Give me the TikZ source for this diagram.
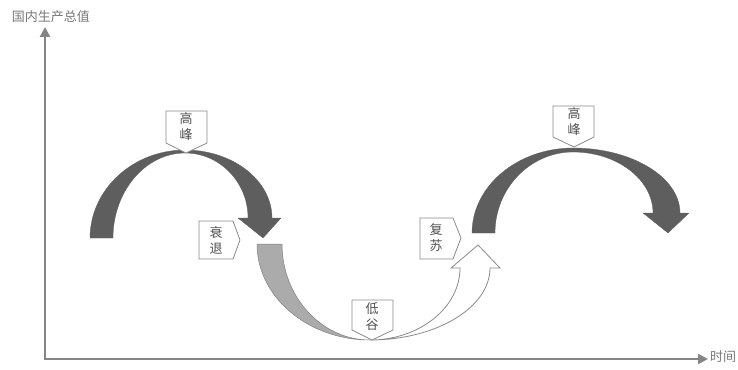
\documentclass[tikz,border=0pt]{standalone}
\usepackage{fontspec}
\newfontfamily\cjk{Noto Sans CJK SC}
\usetikzlibrary{arrows.meta}
\definecolor{axisgray}{HTML}{858585}
\definecolor{darkarch}{HTML}{5E5E5E}
\definecolor{lightarch}{HTML}{ABABAB}
\definecolor{boxline}{HTML}{8A8A8A}
\definecolor{txt}{HTML}{505050}
\tikzset{
  axisline/.style={draw=axisgray, line width=2.6pt, -{Triangle[length=10pt,width=10pt]}},
  axislabel/.style={font=\cjk\fontsize{13}{15}\selectfont, text=axisgray!90!black, inner sep=0pt},
  darkshape/.style={fill=darkarch, draw=darkarch, line width=0.3pt},
  lightshape/.style={fill=lightarch, draw=gray, line width=0.5pt},
  whiteshape/.style={fill=white, draw=boxline, line width=0.8pt},
  tagbox/.style={fill=white, draw=boxline, line width=0.8pt},
  tagtext/.style={font=\cjk\fontsize{13}{16}\selectfont, text=txt, align=center, inner sep=0pt},
}
\begin{document}
\begin{tikzpicture}[x=1pt, y=-1pt]
\useasboundingbox (0,0) rectangle (738,369);
% axes
\coordinate (O) at (45,359);
\coordinate (Ytip) at (45,27);
\coordinate (Xtip) at (708,359);
\draw[axisline] (O) -- (Ytip);
\draw[axisline] ([xshift=-1.3pt]O) -- (Xtip);
\node[axislabel] (ylab) at (51,17) {国内生产总值};
\node[axislabel, anchor=west] (xlab) at (710,357) {时间};

% first dark arch
\fill[darkshape] (90,238) .. controls (90,189.6) and (132.8,150) .. (185,150)
  .. controls (232.9,150) and (272,180.6) .. (272,218)
  -- (281,218) -- (263,238) -- (238,218) -- (248,218)
  .. controls (248,182.2) and (219.7,153) .. (185,153)
  .. controls (145.4,153) and (113,191.3) .. (113,238) -- cycle;

% light grey descent
\filldraw[lightshape] (257,244) .. controls (257,296.8) and (307.85,340) .. (370,340)
  .. controls (321.6,340) and (282,296.8) .. (282,244) -- cycle;

% white recovery arrow
\filldraw[whiteshape] (370,340) .. controls (436,340) and (490,307.6) .. (490,268)
  -- (500,268) -- (478,245) -- (451,268) -- (460,268)
  .. controls (460,307.6) and (419.5,340) .. (370,340) -- cycle;

% second dark arch
\fill[darkshape] (472,233) .. controls (472,186.25) and (517.45,148) .. (573,148)
  .. controls (631.85,148) and (680,177.25) .. (680,213)
  -- (689,213) -- (668,233) -- (643,213) -- (653,213)
  .. controls (653,179.45) and (617,152) .. (573,152)
  .. controls (530.1,152) and (495,188.45) .. (495,233) -- cycle;

% tags
\filldraw[tagbox] (166,111) -- (207,111) -- (207,143) -- (186,153) -- (166,143) -- cycle;
\node[tagtext] (peakA) at (186,127) {高\\峰};
\filldraw[tagbox] (553,106) -- (594,106) -- (594,137) -- (574,147) -- (553,137) -- cycle;
\node[tagtext] (peakB) at (574,122) {高\\峰};
\filldraw[tagbox] (199,221) -- (233,221) -- (240,240) -- (233,259) -- (199,259) -- cycle;
\node[tagtext] (recess) at (216,240) {衰\\退};
\filldraw[tagbox] (420,218) -- (453,218) -- (461,238) -- (453,259) -- (420,259) -- cycle;
\node[tagtext] (recov) at (436,238) {复\\苏};
\filldraw[tagbox] (352,300) -- (393,300) -- (393,330) -- (372,340) -- (352,330) -- cycle;
\node[tagtext] (trough) at (372,317) {低\\谷};
\end{tikzpicture}
\end{document}
